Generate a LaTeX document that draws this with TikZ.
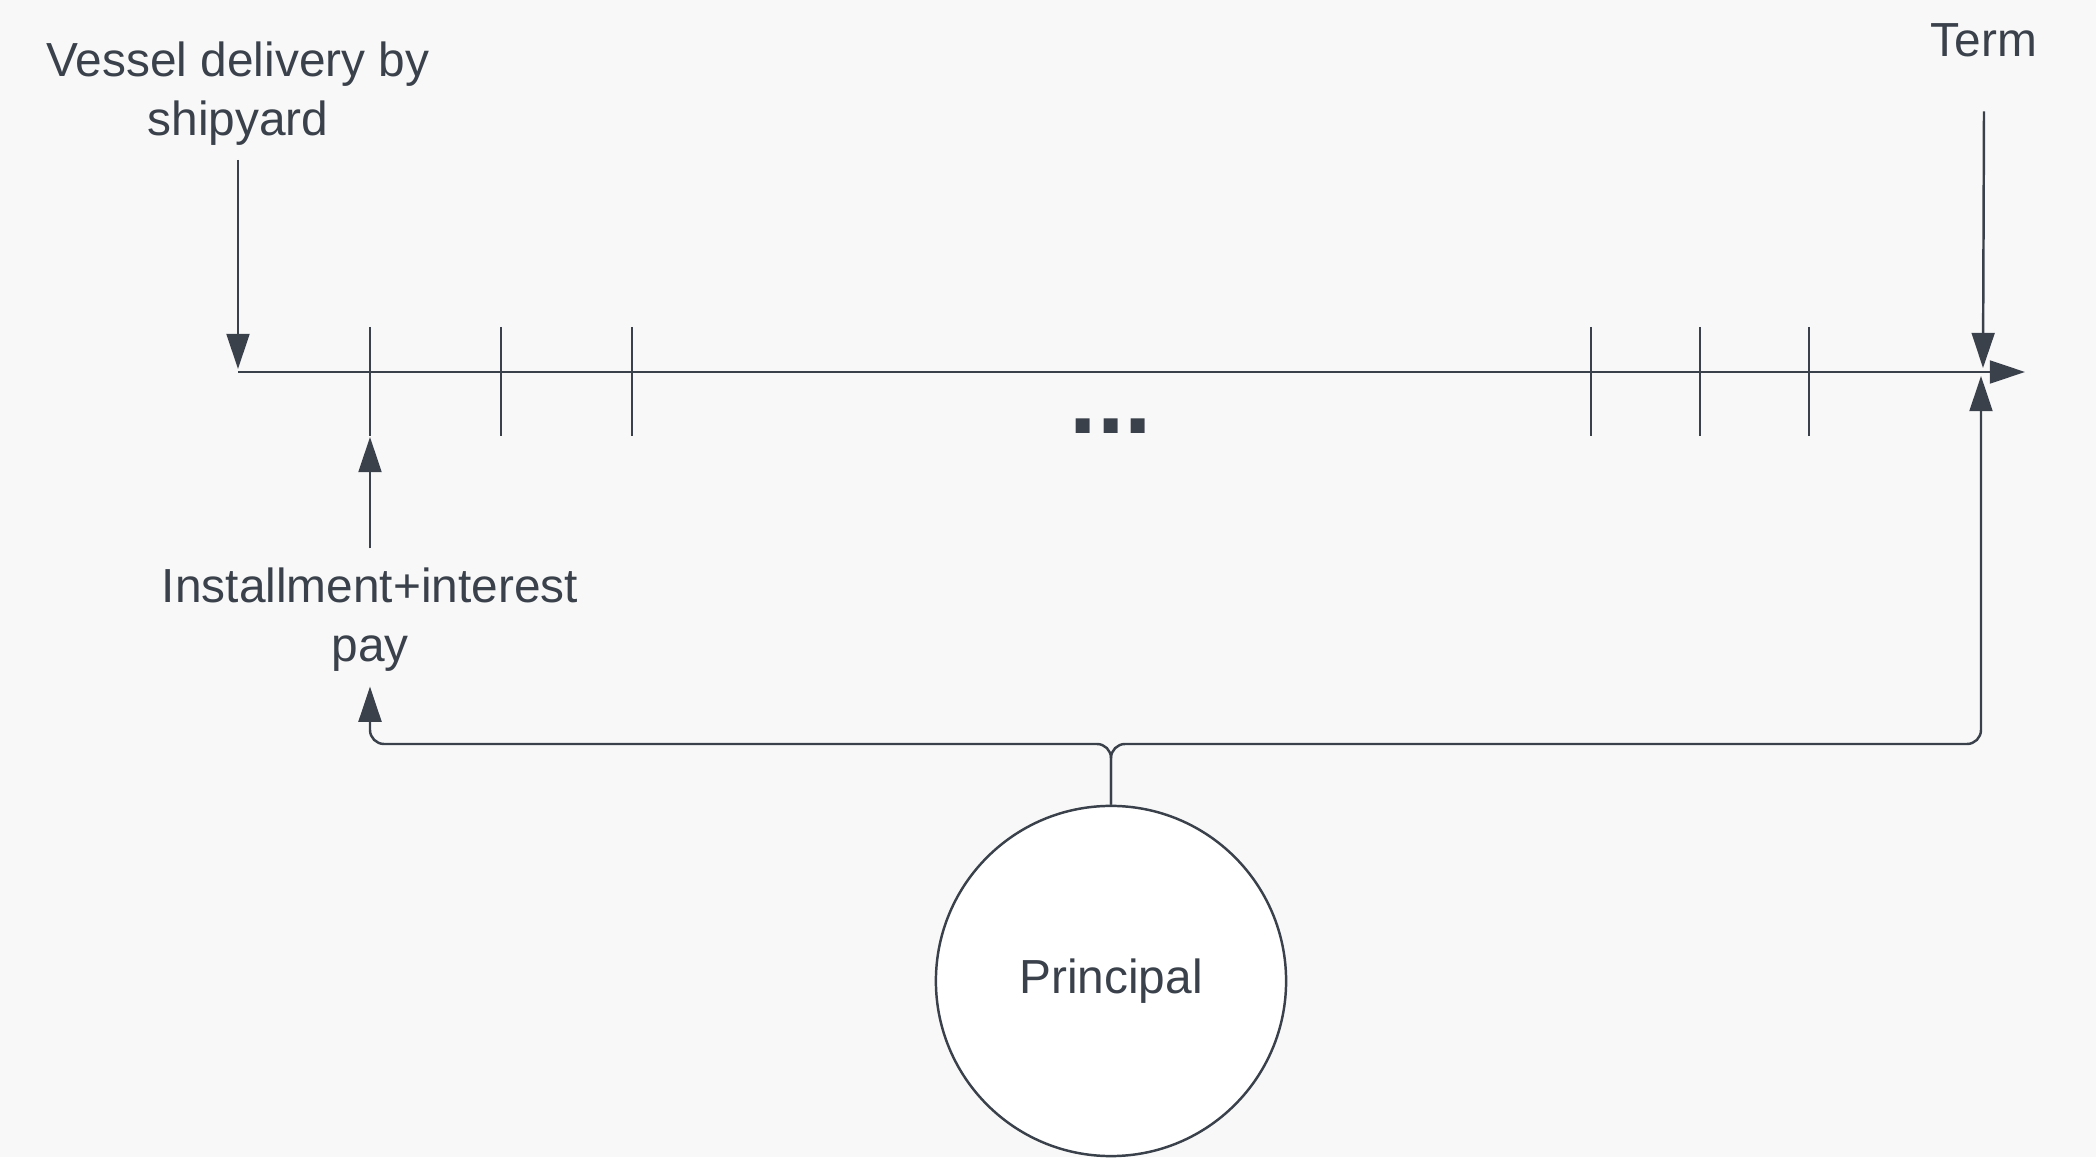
\documentclass[tikz,border=0pt]{standalone}
\usepackage{fontspec}
\setmainfont{Liberation Sans}
\usepackage{tikz}
\usetikzlibrary{arrows.meta}
\definecolor{inkgray}{HTML}{3A414B}
\definecolor{paper}{HTML}{F8F8F8}
\tikzset{
	main node/.style={circle,draw=inkgray,fill=white,line width=0.7pt,minimum size=3.5cm,inner sep=0pt,font=\fontsize{13.6}{16.8}\selectfont,text=inkgray},
	text node/.style={align=center,font=\fontsize{13.6}{16.8}\selectfont,text=inkgray,inner sep=4pt},
	line/.style={draw=inkgray,line width=0.7pt}
}

\begin{document}
\begin{tikzpicture}[x=0.01cm,y=-0.01cm,>={Triangle[length=10pt,width=6.5pt]}]
  \fill[paper] (0,0) rectangle (2096,1157);
  % time axis with payment ticks
  \coordinate (start) at (238,372);
  \coordinate (end) at (2025,372);
  \draw[line,->] (start) -- (end);
  \foreach \x in {370,501,632,1591,1700,1809}
    \draw[line] (\x,327) -- (\x,436);
  \node[text node,font=\fontsize{28}{30}\selectfont\bfseries] (dots) at (1111,426) {...};
  % events on the axis
  \node[text node,anchor=south] (vessel) at (238,160) {Vessel delivery by\\shipyard};
  \coordinate (delivery) at (238,369);
  \draw[line,->] (vessel.south) -- (delivery);
  \node[text node] (term) at (1984,40) {Term};
  \coordinate (termhit) at (1983,368);
  \draw[line,->] ([yshift=-0.4cm]term.south) -- (termhit);
  \node[text node] (install) at (370,620) {Installment+interest\\pay};
  \coordinate (firstpay) at (370,437);
  \draw[line,->] ([yshift=0.05cm]install.north) -- (firstpay);
  % principal split
  \node[main node] (principal) at (1111,981) {Principal};
  \coordinate (fork) at (1111,744);
  \coordinate (lasthit) at (1981,376);
  \draw[line,->,rounded corners=4pt] (principal.north) -- (fork) -| (install.south);
  \draw[line,->,rounded corners=4pt] (principal.north) -- (fork) -| (lasthit);
\end{tikzpicture}
\end{document}
